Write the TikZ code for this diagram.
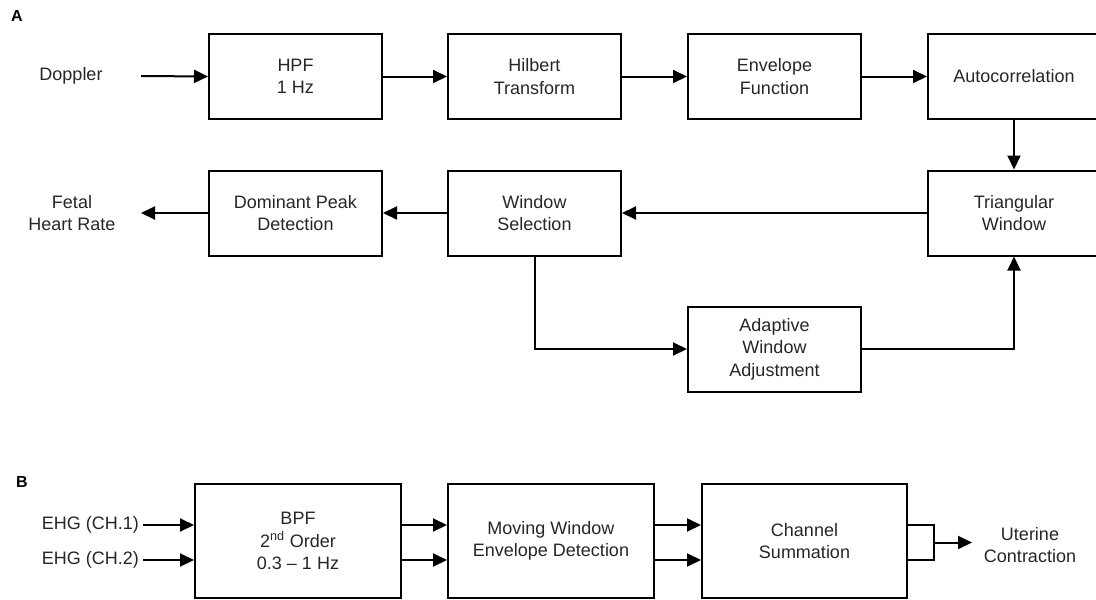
\documentclass[tikz,border=0pt]{standalone}
\usepackage{fontspec}
\setmainfont{Liberation Sans}
\usetikzlibrary{arrows.meta}
\definecolor{txt}{gray}{0.15}
\tikzset{
  blk/.style={draw, line width=2pt, minimum width=173pt, minimum height=85pt,
    align=center, inner sep=0pt, text=txt, font=\fontsize{18}{22.5}\selectfont},
  wideblk/.style={blk, minimum width=206pt, minimum height=114pt},
  lbl/.style={align=center, inner sep=0pt, text=txt, font=\fontsize{18}{22.5}\selectfont},
  panel/.style={inner sep=0pt, font=\fontsize{16}{18}\selectfont\bfseries},
  flow/.style={line width=2pt, -{Triangle[length=14pt,width=13pt]}},
  wire/.style={line width=2pt}
}
\begin{document}
\begin{tikzpicture}[x=1pt, y=-1pt]
\useasboundingbox (0,0) rectangle (1096,600);

% ---------------- Panel A: fetal heart rate ----------------
\node[panel] (labA) at (17,16) {A};

\node[blk] (hpf)   at (295.5,76.5) {HPF\\1 Hz};
\node[blk] (hil)   at (534.5,76.5) {Hilbert\\Transform};
\node[blk] (env)   at (774.5,76.5) {Envelope\\Function};
\node[blk, minimum width=172pt] (acorr) at (1014,76.5) {Autocorrelation};

\node[blk] (dom)   at (295.5,213) {Dominant Peak\\Detection};
\node[blk] (wsel)  at (534.5,213) {Window\\Selection};
\node[blk, minimum width=172pt] (tri) at (1014,213) {Triangular\\Window};
\node[blk] (adapt) at (774.5,349) {Adaptive\\Window\\Adjustment};

\node[lbl] (dop) at (71,76) {Doppler};
\node[lbl] (fhr) at (72,213) {Fetal\\Heart Rate};
\coordinate (dopend) at (141,76);
\coordinate (fhrend) at (141,213);

\draw[flow] (dopend) -- (hpf.west);
\draw[flow] (hpf) -- (hil);
\draw[flow] (hil) -- (env);
\draw[flow] (env) -- (acorr);
\draw[flow] (acorr) -- (tri);
\draw[flow] (tri) -- (wsel);
\draw[flow] (wsel) -- (dom);
\draw[flow] (dom.west) -- (fhrend);
\draw[flow] (wsel.south) |- (adapt.west);
\draw[flow] (adapt.east) -| (tri.south);

% ---------------- Panel B: uterine contraction ----------------
\node[panel] (labB) at (22,482) {B};

\node[wideblk] (bpf) at (298,541) {BPF\\2\textsuperscript{nd} Order\\0.3 – 1 Hz};
\node[wideblk] (mwe) at (551,541) {Moving Window\\Envelope Detection};
\node[wideblk, minimum width=205pt] (csum) at (804.5,541) {Channel\\Summation};

\node[lbl, anchor=east] (ch1) at (139,525) {EHG (CH.1)};
\node[lbl, anchor=east] (ch2) at (139,560) {EHG (CH.2)};
\node[lbl] (uc) at (1030,545) {Uterine\\Contraction};

\coordinate (ch1a) at (143,525);
\coordinate (ch2a) at (143,560);
\draw[flow] (ch1a) -- (ch1a -| bpf.west);
\draw[flow] (ch2a) -- (ch2a -| bpf.west);
\draw[flow] (ch1a -| bpf.east) -- (ch1a -| mwe.west);
\draw[flow] (ch2a -| bpf.east) -- (ch2a -| mwe.west);
\draw[flow] (ch1a -| mwe.east) -- (ch1a -| csum.west);
\draw[flow] (ch2a -| mwe.east) -- (ch2a -| csum.west);

% summing bracket joining both channels
\coordinate (brk) at (934,542.5);
\coordinate (ucend) at (972,542.5);
\draw[wire] (ch1a -| csum.east) -| (brk |- ch2a) -- (ch2a -| csum.east);
\draw[flow] (brk) -- (ucend);
\end{tikzpicture}
\end{document}
